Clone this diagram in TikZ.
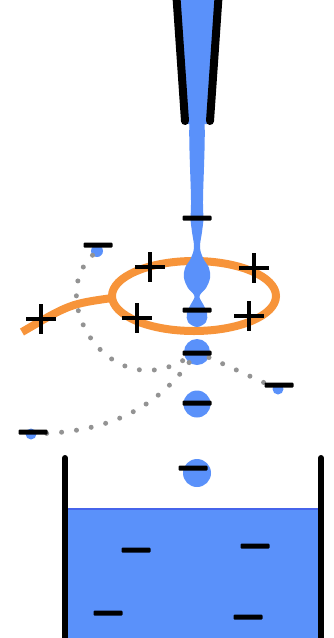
\documentclass[tikz,border=0pt]{standalone}
\usetikzlibrary{positioning}
\definecolor{jetblue}{RGB}{90,145,250}
\definecolor{surfblue}{RGB}{70,100,235}
\definecolor{ringorange}{RGB}{247,148,58}

\begin{document}
\begin{tikzpicture}[x=1pt, y=-1pt,
  drop/.style={circle, fill=jetblue, inner sep=0pt},
  neg/.style={rectangle, fill=black, minimum width=29pt, minimum height=5pt,
    inner sep=0pt, rounded corners=1pt},
  trail/.style={draw=gray!85, line width=5pt, line cap=round,
    dash pattern=on 0pt off 15pt},
  wall/.style={line width=6pt, line cap=round},
  ring/.style={draw=ringorange, line width=8pt},
  plussign/.pic={\draw[line width=3.3pt] (-15,0) -- (15,0) (0,-15) -- (0,15);},
]
\useasboundingbox (0,0) rectangle (333,638);

% Beaker with collected liquid
\fill[jetblue] (68,509) rectangle (318,645);
\draw[surfblue, line width=1.5pt] (68,509) -- (318,509);
\draw[wall] (65,458) -- (65,650);
\draw[wall] (321,458) -- (321,650);

% Ring electrode and its lead
\draw[ring] (194,296) ellipse [x radius=82, y radius=35];
\draw[ring] (112,298) .. controls (70,304) .. (22,332);

% Jet breaking up below the nozzle
\fill[jetblue] plot[smooth cycle, tension=0.6] coordinates {
  (204,115) (203,200) (203.5,218) (202,232) (200,247) (203,258) (209,268)
  (210,278) (206,288) (199.5,296) (203,304) (207,313) (206,322) (197,327)
  (188,322) (187,313) (191,304) (194.5,296) (188,288) (184,278) (185,268)
  (191,258) (194,247) (192,232) (190.5,218) (191,200) (190,115)};

% Nozzle
\fill[jetblue] (180,-5) -- (215,-5) -- (207,124) -- (188,124) -- cycle;
\draw[wall, line width=8pt] (176,-10) -- (185,121);
\draw[wall, line width=8pt] (219,-10) -- (210,121);

% Drops and stray ions
\node[drop, minimum size=26pt] (d1) at (197,352) {};
\node[drop, minimum size=27pt] (d2) at (197,404) {};
\node[drop, minimum size=28pt] (d3) at (197,473) {};
\node[drop, minimum size=12pt] (i1) at (97,251) {};
\node[drop, minimum size=11pt] (i2) at (278,389) {};
\node[drop, minimum size=11pt] (i3) at (31,434) {};

% Ion paths
\draw[trail] (i1) .. controls (45,300) and (110,405) .. (d1);
\draw[trail] (d1) -- (i2);
\draw[trail] (d1) .. controls (150,415) and (100,432) .. (i3);

% Negative charges
\node[neg] (m1) at (197,218) {};
\node[neg] (m2) at (197,310) {};
\node[neg] (m3) at (197,353) {};
\node[neg] (m4) at (197,403) {};
\node[neg] (m5) at (193,468) {};
\node[neg] (n1) at (98,245) {};
\node[neg] (n2) at (279,385) {};
\node[neg] (n3) at (33,432) {};
\foreach \p/\q [count=\k] in {136/550, 255/546, 108/613, 248/617}
  \node[neg] (l\k) at (\p,\q) {};

% Positive charges on the ring
\foreach \p/\q in {150/267, 254/268, 137/318, 249/316, 41/319}
  \pic at (\p,\q) {plussign};

\end{tikzpicture}
\end{document}
